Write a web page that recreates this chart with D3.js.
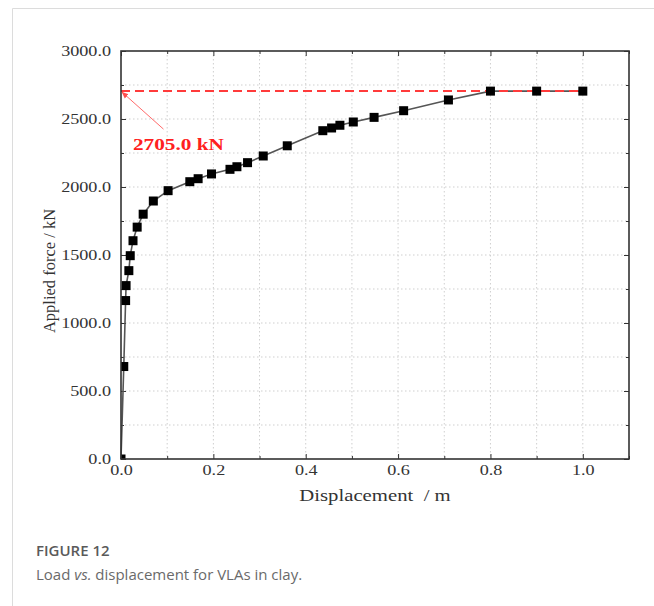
<!DOCTYPE html>
<html>
<head>
<meta charset="utf-8">
<script src="https://cdn.jsdelivr.net/npm/d3@7"></script>
<style>
    body { margin: 0; background: #fff; }
    svg { display: block; }
</style>
</head>
<body>
<script>
// load test, VLA in clay
var displacement = [0, 0.006, 0.010, 0.011, 0.017, 0.020, 0.026, 0.035, 0.048, 0.070, 0.102,
    0.149, 0.167, 0.196, 0.236, 0.251, 0.274, 0.308, 0.360, 0.437, 0.456, 0.474, 0.503,
    0.548, 0.612, 0.709, 0.800, 0.900, 1.000];
var force = [0, 680, 1165, 1275, 1385, 1495, 1605, 1705, 1800, 1897, 1973,
    2039, 2061, 2096, 2130, 2149, 2179, 2228, 2303, 2414, 2434, 2454, 2478,
    2512, 2561, 2640, 2705, 2705, 2705];
var ultimateLoad = 2705.0;
var xTicks = [0, 0.2, 0.4, 0.6, 0.8, 1.0];
var xMinorTicks = [0.1, 0.3, 0.5, 0.7, 0.9, 1.1];
var yTicks = [0, 500, 1000, 1500, 2000, 2500, 3000];
var yMinorTicks = [250, 750, 1250, 1750, 2250, 2750];
var xGrid = [0.1, 0.2, 0.3, 0.4, 0.5, 0.6, 0.7, 0.8, 0.9, 1.0];
var yGrid = [250, 500, 750, 1000, 1250, 1500, 1750, 2000, 2250, 2500, 2750];

var W = 654, H = 606,
    margin = {top: 51, right: 25, bottom: 147, left: 121},
    width = W - margin.left - margin.right,
    height = H - margin.top - margin.bottom,
    stretch = 1.25;

var svg = d3.select("body").append("svg")
    .attr("width", W)
    .attr("height", H);

// page frame lines
svg.append("line").attr("x1", 12.5).attr("y1", 8.5).attr("x2", W).attr("y2", 8.5)
    .attr("stroke", "#dcdcdc");
svg.append("line").attr("x1", 12.5).attr("y1", 8.5).attr("x2", 12.5).attr("y2", H)
    .attr("stroke", "#dcdcdc");

var x = d3.scaleLinear().domain([0, 1.1]).range([0, width]);
var y = d3.scaleLinear().domain([0, 3000]).range([height, 0]);

var g = svg.append("g")
    .attr("transform", "translate(" + margin.left + "," + margin.top + ")");

g.append("defs").append("clipPath").attr("id", "plotclip")
    .append("rect").attr("width", width).attr("height", height);

// dotted grid
g.selectAll(".vgrid").data(xGrid).enter().append("line")
    .attr("class", "vgrid")
    .attr("x1", function(d) { return x(d); })
    .attr("x2", function(d) { return x(d); })
    .attr("y1", 0).attr("y2", height)
    .attr("stroke", "#cfcfcf").attr("stroke-dasharray", "1.5,2.5");
g.selectAll(".hgrid").data(yGrid).enter().append("line")
    .attr("class", "hgrid")
    .attr("y1", function(d) { return y(d); })
    .attr("y2", function(d) { return y(d); })
    .attr("x1", 0).attr("x2", width)
    .attr("stroke", "#cfcfcf").attr("stroke-dasharray", "1.5,2.5");

// axes, ticks inward
function styleAxis(sel) {
    sel.select(".domain").remove();
    sel.selectAll(".tick line").attr("stroke", "#333");
    sel.selectAll(".tick text")
        .attr("fill", "#333")
        .style("font-family", "'Liberation Serif', 'Times New Roman', serif")
        .style("font-size", "14.5px")
        .attr("transform", "scale(" + stretch + ",1)");
}

g.append("g").attr("transform", "translate(0," + height + ")")
    .call(d3.axisBottom(x).tickValues(xTicks).tickSize(-5).tickPadding(6)
        .tickFormat(d3.format(".1f")))
    .call(styleAxis);
g.append("g").attr("transform", "translate(0," + height + ")")
    .call(d3.axisBottom(x).tickValues(xMinorTicks).tickSize(-3).tickFormat(""))
    .call(styleAxis);
g.append("g")
    .call(d3.axisTop(x).tickValues(xTicks).tickSize(-5).tickFormat(""))
    .call(styleAxis);
g.append("g")
    .call(d3.axisTop(x).tickValues(xMinorTicks).tickSize(-3).tickFormat(""))
    .call(styleAxis);

g.append("g")
    .call(d3.axisLeft(y).tickValues(yTicks).tickSize(-5).tickPadding(8)
        .tickFormat(d3.format(".1f")))
    .call(styleAxis);
g.append("g")
    .call(d3.axisLeft(y).tickValues(yMinorTicks).tickSize(-3).tickFormat(""))
    .call(styleAxis);
g.append("g").attr("transform", "translate(" + width + ",0)")
    .call(d3.axisRight(y).tickValues(yTicks).tickSize(-5).tickFormat(""))
    .call(styleAxis);
g.append("g").attr("transform", "translate(" + width + ",0)")
    .call(d3.axisRight(y).tickValues(yMinorTicks).tickSize(-3).tickFormat(""))
    .call(styleAxis);

var pts = displacement.map(function(d, i) { return {x: d, y: force[i]}; });

// curve
g.append("path")
    .datum(pts)
    .attr("fill", "none")
    .attr("stroke", "#555")
    .attr("stroke-width", 1.6)
    .attr("d", d3.line().x(function(d) { return x(d.x); }).y(function(d) { return y(d.y); }));

// ultimate load line
g.append("line")
    .attr("x1", x(0)).attr("x2", x(1.0))
    .attr("y1", y(ultimateLoad)).attr("y2", y(ultimateLoad))
    .attr("stroke", "#ff3b3b")
    .attr("stroke-width", 2)
    .attr("stroke-dasharray", "9,5");

// markers
g.append("g").attr("clip-path", "url(#plotclip)")
    .selectAll("rect").data(pts).enter().append("rect")
    .attr("x", function(d) { return x(d.x) - 4.5; })
    .attr("y", function(d) { return y(d.y) - 4.5; })
    .attr("width", 9).attr("height", 9)
    .attr("fill", "#000");

// frame
g.append("rect")
    .attr("width", width).attr("height", height)
    .attr("fill", "none")
    .attr("stroke", "#333")
    .attr("stroke-width", 1.6);

// annotation arrow + label
g.append("defs").append("marker")
    .attr("id", "arrowhead")
    .attr("viewBox", "0 0 10 10")
    .attr("refX", 9).attr("refY", 5)
    .attr("markerWidth", 7).attr("markerHeight", 7)
    .attr("orient", "auto")
    .append("path").attr("d", "M0,1 L10,5 L0,9 z").attr("fill", "#ff4d4d");

g.append("line")
    .attr("x1", x(0.092)).attr("y1", y(ultimateLoad) + 38)
    .attr("x2", x(0) + 1).attr("y2", y(ultimateLoad) + 1)
    .attr("stroke", "#ff6b6b")
    .attr("stroke-width", 1)
    .attr("marker-end", "url(#arrowhead)");

g.append("text")
    .attr("transform", "translate(" + (x(0) + 12) + "," + (y(ultimateLoad) + 59) + ") scale(" + stretch + ",1)")
    .attr("fill", "#ff2020")
    .style("font-family", "'Liberation Serif', 'Times New Roman', serif")
    .style("font-weight", "bold")
    .style("font-size", "17px")
    .text(d3.format(".1f")(ultimateLoad) + " kN");

// axis titles
g.append("text")
    .attr("transform", "translate(" + (width / 2) + "," + (height + 42) + ") scale(1.22,1)")
    .attr("text-anchor", "middle")
    .attr("fill", "#333")
    .style("font-family", "'Liberation Serif', 'Times New Roman', serif")
    .style("font-size", "17px")
    .text("Displacement \u00a0/ m");

g.append("text")
    .attr("transform", "translate(" + (55 - margin.left) + "," + (height / 2 + 16) + ") rotate(-90)")
    .attr("text-anchor", "middle")
    .attr("fill", "#333")
    .style("font-family", "'Liberation Serif', 'Times New Roman', serif")
    .style("font-size", "16.5px")
    .text("Applied force / kN");

// caption
svg.append("text")
    .attr("x", 36).attr("y", 556)
    .attr("fill", "#5a5a5a")
    .style("font-family", "'Open Sans', sans-serif")
    .style("font-weight", 600)
    .style("font-size", "15px")
    .text("FIGURE 12");

var cap = svg.append("text")
    .attr("x", 36).attr("y", 580)
    .attr("fill", "#6a6a6a")
    .style("font-family", "'Open Sans', sans-serif")
    .style("font-size", "15px");
cap.append("tspan").text("Load ");
cap.append("tspan").style("font-style", "italic").text("vs.");
cap.append("tspan").text(" displacement for VLAs in clay.");
</script>
</body>
</html>
